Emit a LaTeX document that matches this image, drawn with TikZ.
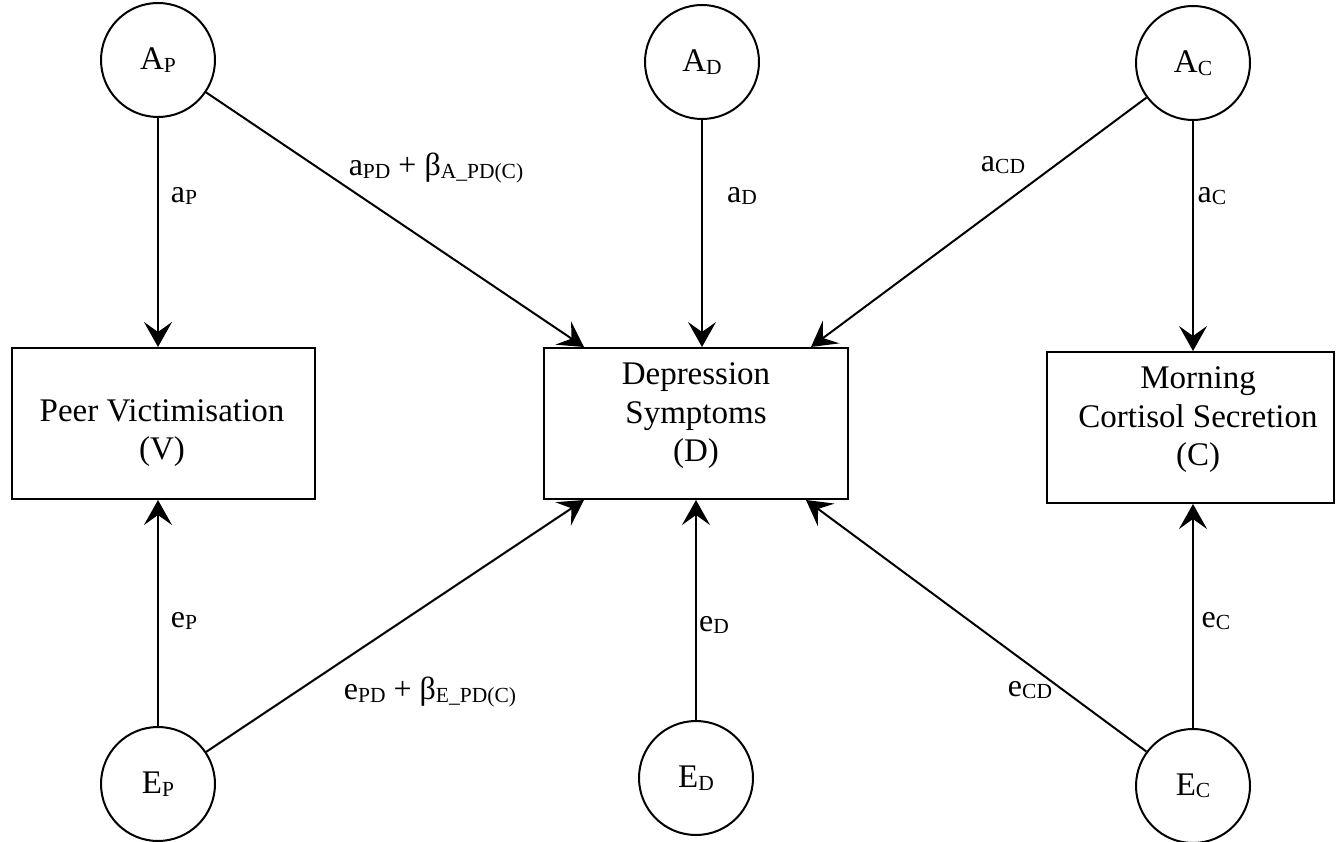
\documentclass[tikz,border=0pt]{standalone}
\usepackage{fontspec}
\setmainfont{Liberation Serif}
\usetikzlibrary{arrows.meta,calc}
\newcommand{\sbs}[1]{\raisebox{-2.5pt}{\fontsize{21.5}{21.5}\selectfont #1}}
\begin{document}
\begin{tikzpicture}[x=1pt,y=-1pt,
  lat/.style={circle,draw,line width=2pt,minimum size=114pt,inner sep=0pt,font=\fontsize{33}{33}\selectfont},
  obs/.style={rectangle,draw,line width=2pt,inner sep=0pt},
  btxt/.style={align=center,inner sep=0pt,font=\fontsize{33}{38.5}\selectfont},
  lbl/.style={font=\fontsize{32}{32}\selectfont,inner sep=0pt},
  arr/.style={line width=2pt,-{Stealth[length=25pt,width=28pt,inset=10pt]}}]
\useasboundingbox (0,0) rectangle (1336,842);
% boxes
\node[obs,minimum width=303pt,minimum height=151pt] (V) at (163.5,423.5) {};
\node[obs,minimum width=304pt,minimum height=151pt] (D) at (696,423.5) {};
\node[obs,minimum width=287pt,minimum height=151pt] (C) at (1190.5,427.5) {};
\node[btxt] (Vt) at (162,433) {Peer Victimisation\\(V)};
\node[btxt] (Dt) at (696,416) {Depression\\Symptoms\\(D)};
\node[btxt] (Ct) at (1198,420) {Morning\\Cortisol Secretion\\(C)};
% latent circles
\node[lat] (AP) at (158,60) {A\sbs{P}};
\node[lat] (AD) at (702,62) {A\sbs{D}};
\node[lat] (AC) at (1193,63) {A\sbs{C}};
\node[lat] (EP) at (158,784) {E\sbs{P}};
\node[lat] (ED) at (696,778) {E\sbs{D}};
\node[lat] (EC) at (1193,786) {E\sbs{C}};
% connectors
\draw[arr] (AP.south) -- (AP.south |- V.north);
\draw[arr] (AP) -- ([xshift=41pt]D.north west);
\draw[arr] (AD.south) -- (AD.south |- D.north);
\draw[arr] (AC) -- ([xshift=-38pt]D.north east);
\draw[arr] (AC.south) -- (AC.south |- C.north);
\draw[arr] (EP.north) -- (EP.north |- V.south);
\draw[arr] (EP) -- ([xshift=41pt]D.south west);
\draw[arr] (ED.north) -- (ED.north |- D.south);
\draw[arr] (EC) -- ([xshift=-43pt]D.south east);
\draw[arr] (EC.north) -- (EC.north |- C.south);
% labels
\node[lbl] (lap) at (184,196) {a\sbs{P}};
\node[lbl] (lapd) at (436,168) {a\sbs{PD} + β\sbs{A\_PD(C)}};
\node[lbl] (lad) at (742,196) {a\sbs{D}};
\node[lbl] (lacd) at (1003,165) {a\sbs{CD}};
\node[lbl] (lac) at (1212,196) {a\sbs{C}};
\node[lbl] (lep) at (184,621) {e\sbs{P}};
\node[lbl] (lepd) at (430,692) {e\sbs{PD} + β\sbs{E\_PD(C)}};
\node[lbl] (led) at (714,625) {e\sbs{D}};
\node[lbl] (lecd) at (1030,690) {e\sbs{CD}};
\node[lbl] (lec) at (1216,621) {e\sbs{C}};
\end{tikzpicture}
\end{document}
